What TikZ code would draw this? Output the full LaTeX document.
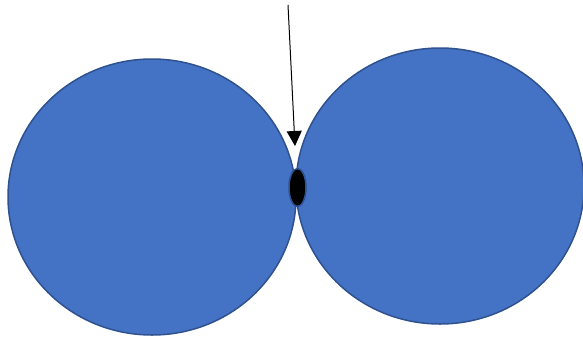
\documentclass[tikz,border=0pt]{standalone}
\usetikzlibrary{shapes.geometric,arrows.meta}
\definecolor{fillblue}{HTML}{4472C4}
\definecolor{edgeblue}{HTML}{2F528F}
\begin{document}
\begin{tikzpicture}[x=1pt,y=-1pt,
  bigball/.style={ellipse,draw=edgeblue,fill=fillblue,line width=1.5pt,inner sep=0pt},
  dot/.style={ellipse,draw=edgeblue,fill=black,line width=1.5pt,inner sep=0pt,minimum width=17pt,minimum height=38pt},
  pointer/.style={line width=1pt,-{Triangle[width=15pt,length=15pt]}}]
\useasboundingbox (0,0) rectangle (583,338);
\node[bigball,minimum width=288pt,minimum height=276pt] (left) at (152,197) {};
\node[bigball,minimum width=288pt,minimum height=276pt] (right) at (440,186) {};
\node[dot] (contact) at (297.5,187.5) {};
\coordinate (start) at (288,5);
\coordinate (tip) at (295,146);
\draw[pointer] (start) -- (tip);
\end{tikzpicture}
\end{document}
